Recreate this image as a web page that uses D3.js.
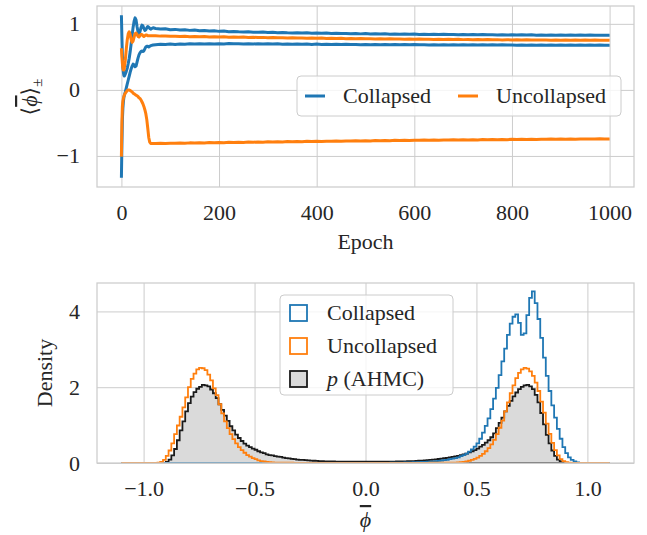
<!DOCTYPE html>
<html>
<head>
<meta charset="utf-8">
<script src="https://cdn.jsdelivr.net/npm/d3@7"></script>
<style>
  body { margin: 0; background: #fff; }
  text { font-family: "Liberation Serif", "DejaVu Serif", serif; fill: #262626; }
</style>
</head>
<body>
<script>
// ---- top panel: mean field vs epoch ----
const earlyEpochs = [0,1,2,3,4,5,6,8,10,12,14,16,18,20,22,24,26,28,30,32,34,36,38,40,42,44,46,48,50,52,54,56,58,60,65];
const lateEpochs = [70,80,90,100,110,120,130,140,150,160,
    170,180,190,200,210,220,230,240,250,260,
    270,280,290,300,310,320,330,340,350,360,
    370,380,390,400,410,420,430,440,450,460,
    470,480,490,500,510,520,530,540,550,560,
    570,580,590,600,610,620,630,640,650,660,
    670,680,690,700,710,720,730,740,750,760,
    770,780,790,800,810,820,830,840,850,860,
    870,880,890,900,910,920,930,940,950,960,
    970,980,990,1000];

const collapsedPlusEarly = [1.13,0.80,0.52,0.35,0.27,0.22,0.21,0.24,0.28,0.33,0.40,0.48,0.58,0.70,0.83,0.95,1.04,1.09,1.06,0.96,0.88,0.85,0.88,0.94,0.98,0.97,0.93,0.90,0.91,0.94,0.96,0.95,0.93,0.92,0.94];
const collapsedPlusLate = [0.930,0.922,0.925,0.912,0.916,0.906,0.910,0.901,0.905,0.896,
    0.900,0.891,0.895,0.886,0.890,0.881,0.885,0.879,0.876,0.880,
    0.874,0.871,0.875,0.869,0.872,0.866,0.870,0.865,0.862,0.866,
    0.860,0.864,0.858,0.861,0.856,0.860,0.854,0.857,0.852,0.855,
    0.850,0.853,0.848,0.852,0.847,0.850,0.845,0.849,0.844,0.847,
    0.843,0.846,0.841,0.845,0.840,0.843,0.839,0.842,0.838,0.841,
    0.837,0.840,0.836,0.839,0.835,0.838,0.834,0.837,0.833,0.836,
    0.832,0.835,0.831,0.834,0.830,0.834,0.830,0.833,0.829,0.832,
    0.828,0.832,0.828,0.831,0.827,0.831,0.827,0.830,0.826,0.830,
    0.826,0.829,0.826,0.828];

const collapsedMinusEarly = [-1.33,-0.85,-0.45,-0.28,-0.18,-0.12,-0.08,-0.03,0.03,0.09,0.15,0.21,0.27,0.32,0.36,0.39,0.38,0.35,0.36,0.42,0.48,0.53,0.56,0.58,0.59,0.58,0.59,0.62,0.65,0.66,0.66,0.65,0.66,0.67,0.68];
const collapsedMinusLate = [0.684,0.690,0.686,0.693,0.689,0.695,0.691,0.697,0.693,0.698,
    0.694,0.699,0.695,0.700,0.696,0.701,0.697,0.700,0.696,0.699,
    0.695,0.699,0.694,0.698,0.693,0.697,0.692,0.696,0.691,0.695,
    0.690,0.694,0.689,0.693,0.688,0.692,0.687,0.691,0.686,0.690,
    0.686,0.689,0.685,0.689,0.684,0.688,0.684,0.687,0.683,0.687,
    0.683,0.686,0.682,0.686,0.682,0.685,0.681,0.685,0.681,0.684,
    0.680,0.684,0.680,0.683,0.679,0.683,0.679,0.682,0.678,0.682,
    0.678,0.682,0.678,0.681,0.677,0.681,0.677,0.680,0.677,0.680,
    0.676,0.680,0.676,0.679,0.676,0.679,0.675,0.679,0.675,0.678,
    0.675,0.678,0.675,0.677];

const uncollapsedPlusEarly = [0.63,0.50,0.40,0.33,0.30,0.30,0.33,0.45,0.62,0.76,0.85,0.88,0.84,0.76,0.72,0.74,0.80,0.85,0.86,0.84,0.81,0.80,0.82,0.84,0.84,0.82,0.81,0.82,0.83,0.83,0.82,0.82,0.82,0.82,0.82];
const uncollapsedPlusLate = [0.818,0.814,0.816,0.811,0.813,0.808,0.811,0.806,0.808,0.804,
    0.807,0.802,0.805,0.800,0.803,0.798,0.800,0.796,0.799,0.794,
    0.797,0.792,0.795,0.790,0.793,0.788,0.791,0.787,0.789,0.785,
    0.787,0.783,0.786,0.781,0.784,0.779,0.782,0.778,0.780,0.776,
    0.779,0.775,0.777,0.773,0.776,0.772,0.774,0.770,0.773,0.769,
    0.772,0.768,0.770,0.766,0.769,0.765,0.768,0.764,0.767,0.763,
    0.766,0.762,0.765,0.761,0.764,0.760,0.763,0.759,0.762,0.758,
    0.761,0.757,0.760,0.756,0.759,0.755,0.758,0.755,0.757,0.754,
    0.757,0.753,0.756,0.752,0.755,0.752,0.755,0.751,0.754,0.751,
    0.754,0.750,0.753,0.752];

const uncollapsedMinusEarly = [-1.01,-0.50,-0.25,-0.17,-0.13,-0.10,-0.08,-0.05,-0.03,-0.01,0.00,0.00,-0.01,-0.02,-0.03,-0.05,-0.06,-0.07,-0.08,-0.09,-0.10,-0.12,-0.13,-0.15,-0.18,-0.21,-0.25,-0.30,-0.36,-0.45,-0.58,-0.72,-0.79,-0.81,-0.81];
const uncollapsedMinusLate = [-0.812,-0.808,-0.811,-0.806,-0.809,-0.804,-0.807,-0.802,-0.805,-0.800,
    -0.803,-0.798,-0.801,-0.796,-0.799,-0.794,-0.797,-0.792,-0.795,-0.790,
    -0.793,-0.788,-0.791,-0.786,-0.789,-0.785,-0.787,-0.783,-0.786,-0.781,
    -0.784,-0.779,-0.782,-0.777,-0.780,-0.776,-0.778,-0.774,-0.777,-0.772,
    -0.775,-0.771,-0.773,-0.769,-0.772,-0.767,-0.770,-0.766,-0.769,-0.764,
    -0.767,-0.763,-0.766,-0.761,-0.764,-0.760,-0.763,-0.759,-0.762,-0.757,
    -0.760,-0.756,-0.759,-0.755,-0.758,-0.753,-0.757,-0.752,-0.755,-0.751,
    -0.754,-0.750,-0.753,-0.749,-0.752,-0.748,-0.751,-0.747,-0.750,-0.746,
    -0.749,-0.745,-0.748,-0.744,-0.747,-0.743,-0.746,-0.743,-0.745,-0.742,
    -0.745,-0.741,-0.744,-0.742];

const epochTicks = [0, 200, 400, 600, 800, 1000];
const meanTicks = [-1, 0, 1];

// ---- bottom panel: histograms of phi-bar (bins of 0.0125 from -1.1 to 1.1) ----
const binLo = -1.1, binWidth = 0.0125;
const collapsedDensity = [
    0,0,0,0,0,0,0,0,0,0,0,0,0,0,0,0,
    0,0,0,0,0,0,0,0,0,0,0,0,0,0,0,0,
    0,0,0,0,0,0,0,0,0,0,0,0,0,0,0,0,
    0,0,0,0,0,0,0,0,0,0,0,0,0,0,0,0,
    0,0,0,0,0,0,0,0,0,0,0,0,0,0,0,0,
    0,0,0,0,0,0,0,0,0,0,0.001,0.001,0.002,0.002,0.003,0.004,
    0.005,0.006,0.007,0.008,0.010,0.011,0.013,0.015,0.017,0.020,0.022,0.025,0.028,0.031,0.035,0.040,
    0.045,0.050,0.058,0.066,0.075,0.085,0.10,0.115,0.13,0.15,0.18,0.21,0.25,0.30,0.36,0.43,
    0.52,0.64,0.80,0.98,1.18,1.42,1.70,1.98,2.32,2.68,3.02,3.38,3.68,3.86,3.92,3.70,
    3.38,3.42,3.90,4.36,4.53,4.22,3.80,3.30,2.78,2.30,1.90,1.52,1.20,0.90,0.64,0.42,
    0.26,0.15,0.08,0.04,0.015,0.005,0,0,0,0,0,0,0,0,0,0];
const uncollapsedDensity = [
    0,0,0,0,0,0,0,0,0,0,0,0,0,0.01,0.03,0.08,
    0.19,0.33,0.52,0.76,0.99,1.22,1.47,1.73,2.00,2.22,2.36,2.47,2.51,2.50,2.45,2.33,
    2.18,1.97,1.79,1.55,1.31,1.10,0.92,0.76,0.63,0.52,0.42,0.34,0.27,0.21,0.17,0.13,
    0.10,0.07,0.05,0.04,0.03,0.02,0.015,0.012,0.010,0.009,0.008,0.007,0.006,0.006,0.005,0.005,
    0.004,0.004,0.004,0.003,0.003,0.003,0.003,0.002,0.002,0.002,0.002,0.002,0.002,0.002,0.002,0.002,
    0.002,0.002,0.002,0.002,0.002,0.002,0.002,0.002,0.002,0.002,0.002,0.002,0.002,0.002,0.002,0.002,
    0.002,0.002,0.002,0.002,0.002,0.002,0.003,0.003,0.003,0.003,0.004,0.004,0.004,0.005,0.005,0.006,
    0.006,0.006,0.007,0.007,0.008,0.008,0.009,0.009,0.010,0.015,0.02,0.03,0.04,0.06,0.08,0.11,
    0.14,0.19,0.24,0.31,0.39,0.49,0.61,0.76,0.93,1.12,1.36,1.60,1.84,2.05,2.24,2.38,
    2.47,2.51,2.49,2.42,2.30,2.12,1.90,1.62,1.33,1.04,0.77,0.53,0.34,0.20,0.10,0.05,
    0.02,0.01,0,0,0,0,0,0,0,0,0,0,0,0,0,0];
const ahmcDensity = [
    0,0,0,0,0,0,0,0,0,0,0,0,0,0,0,0.005,
    0.03,0.09,0.20,0.37,0.60,0.86,1.10,1.36,1.58,1.75,1.87,1.96,2.01,2.06,2.05,2.02,
    1.94,1.84,1.71,1.55,1.40,1.25,1.11,0.97,0.86,0.75,0.66,0.58,0.51,0.46,0.42,0.38,
    0.35,0.31,0.28,0.26,0.23,0.21,0.20,0.18,0.17,0.16,0.14,0.13,0.12,0.11,0.10,0.09,
    0.085,0.08,0.075,0.07,0.065,0.06,0.055,0.05,0.048,0.045,0.043,0.04,0.039,0.038,0.037,0.036,
    0.036,0.035,0.035,0.034,0.035,0.034,0.033,0.034,0.033,0.034,0.034,0.035,0.034,0.035,0.036,0.036,
    0.037,0.038,0.038,0.039,0.040,0.042,0.044,0.046,0.048,0.052,0.056,0.060,0.065,0.070,0.075,0.080,
    0.088,0.095,0.105,0.115,0.125,0.135,0.15,0.16,0.175,0.19,0.21,0.23,0.25,0.28,0.31,0.34,
    0.38,0.43,0.48,0.54,0.60,0.68,0.78,0.92,1.06,1.20,1.36,1.51,1.64,1.76,1.86,1.95,
    2.01,2.05,2.06,2.02,1.95,1.80,1.60,1.32,1.02,0.74,0.52,0.33,0.19,0.09,0.04,0.015,
    0.005,0,0,0,0,0,0,0,0,0,0,0,0,0,0,0];

const phiTicks = [-1.0, -0.5, 0.0, 0.5, 1.0];
const densityTicks = [0, 2, 4];

const blue = "#1f77b4", orange = "#ff7f0e", gridColor = "#cccccc";
const fontSize = 22;
const serif = "'Liberation Serif', 'DejaVu Serif', serif";

const svg = d3.select("body").append("svg")
    .attr("width", 647)
    .attr("height", 535)
    .style("font-family", serif);

const panelTop = { left: 97, right: 634, top: 6, bottom: 187 };
const panelBot = { left: 97, right: 634, top: 283, bottom: 463 };

const xEpoch = d3.scaleLinear().domain([-50, 1050]).range([panelTop.left, panelTop.right]);
const yMean = d3.scaleLinear().domain([-1.47, 1.27]).range([panelTop.bottom, panelTop.top]);
const xPhi = d3.scaleLinear().domain([-1.21, 1.21]).range([panelBot.left, panelBot.right]);
const yDens = d3.scaleLinear().domain([0, 4.75]).range([panelBot.bottom, panelBot.top]);

function drawFrame(p, x, y, xTicks, yTicks, xFmt, yFmt, id) {
    const w = p.right - p.left, h = p.bottom - p.top;
    svg.append("defs").append("clipPath").attr("id", id)
        .append("rect").attr("x", p.left).attr("y", p.top).attr("width", w).attr("height", h);

    const gx = svg.append("g")
        .attr("transform", `translate(0,${p.bottom})`)
        .call(d3.axisBottom(x).tickValues(xTicks).tickFormat(xFmt)
            .tickSize(-h).tickSizeOuter(0).tickPadding(17));
    const gy = svg.append("g")
        .attr("transform", `translate(${p.left},0)`)
        .call(d3.axisLeft(y).tickValues(yTicks).tickFormat(yFmt)
            .tickSize(-w).tickSizeOuter(0).tickPadding(17));
    [gx, gy].forEach(function(g) {
        g.attr("font-family", null).attr("font-size", null);
        g.select(".domain").remove();
        g.selectAll(".tick line").attr("stroke", gridColor).attr("stroke-width", 1);
        g.selectAll(".tick text")
            .style("font-family", serif)
            .style("font-size", fontSize + "px")
            .attr("fill", "#262626");
    });
    return function() {
        svg.append("rect")
            .attr("x", p.left).attr("y", p.top).attr("width", w).attr("height", h)
            .attr("fill", "none").attr("stroke", gridColor).attr("stroke-width", 1.25);
    };
}

// ---------- top panel ----------
const topBorder = drawFrame(panelTop, xEpoch, yMean, epochTicks, meanTicks, d3.format("d"), d3.format("d"), "clipTop");
topBorder();

const epochs = earlyEpochs.concat(lateEpochs);
const meanSeries = [
    { color: blue, values: collapsedPlusEarly.concat(collapsedPlusLate) },
    { color: blue, values: collapsedMinusEarly.concat(collapsedMinusLate) },
    { color: orange, values: uncollapsedPlusEarly.concat(uncollapsedPlusLate) },
    { color: orange, values: uncollapsedMinusEarly.concat(uncollapsedMinusLate) }
];

const meanLine = d3.line()
    .x(function(d) { return xEpoch(d[0]); })
    .y(function(d) { return yMean(d[1]); });

svg.append("g").attr("clip-path", "url(#clipTop)")
    .selectAll("path")
    .data(meanSeries)
    .enter().append("path")
    .attr("fill", "none")
    .attr("stroke", function(d) { return d.color; })
    .attr("stroke-width", 3)
    .attr("stroke-linejoin", "round")
    .attr("d", function(s) { return meanLine(epochs.map(function(e, i) { return [e, s.values[i]]; })); });

// legend (top)
const legTop = svg.append("g");
legTop.append("rect")
    .attr("x", 297).attr("y", 76).attr("width", 324).attr("height", 40)
    .attr("rx", 4).attr("fill", "#fff").attr("fill-opacity", 0.8)
    .attr("stroke", gridColor).attr("stroke-width", 1);
[["Collapsed", blue, 305], ["Uncollapsed", orange, 458]].forEach(function(item) {
    legTop.append("line")
        .attr("x1", item[2]).attr("x2", item[2] + 20).attr("y1", 96).attr("y2", 96)
        .attr("stroke", item[1]).attr("stroke-width", 3);
    legTop.append("text")
        .attr("x", item[2] + 38).attr("y", 103)
        .attr("font-size", fontSize).text(item[0]);
});

svg.append("text")
    .attr("x", 365.5).attr("y", 249)
    .attr("text-anchor", "middle").attr("font-size", fontSize)
    .text("Epoch");

const yLabTop = svg.append("text")
    .attr("transform", "translate(37,97) rotate(-90)")
    .attr("text-anchor", "middle").attr("font-size", fontSize);
yLabTop.append("tspan").text("\u27E8");
yLabTop.append("tspan").attr("font-style", "italic")
    .attr("text-decoration", "overline").text("\u03D5");
yLabTop.append("tspan").text("\u27E9");
yLabTop.append("tspan").attr("font-size", 15).attr("dy", 5).text("\u00B1");

// ---------- bottom panel ----------
const botBorder = drawFrame(panelBot, xPhi, yDens, phiTicks, densityTicks, d3.format(".1f"), d3.format("d"), "clipBot");

function stepPoints(dens) {
    const pts = [[binLo, 0]];
    dens.forEach(function(v, i) { pts.push([binLo + i * binWidth, v]); });
    pts.push([binLo + dens.length * binWidth, dens[dens.length - 1]]);
    pts.push([binLo + dens.length * binWidth, 0]);
    return pts;
}

const stepLine = d3.line()
    .x(function(d) { return xPhi(d[0]); })
    .y(function(d) { return yDens(d[1]); })
    .curve(d3.curveStepAfter);

const histG = svg.append("g").attr("clip-path", "url(#clipBot)");

histG.append("path")
    .attr("d", stepLine(stepPoints(ahmcDensity)) + "Z")
    .attr("fill", "#dadada").attr("stroke", "#1a1a1a").attr("stroke-width", 1.8)
    .attr("stroke-linejoin", "miter");

[[collapsedDensity, blue], [uncollapsedDensity, orange]].forEach(function(h) {
    histG.append("path")
        .attr("d", stepLine(stepPoints(h[0])))
        .attr("fill", "none").attr("stroke", h[1]).attr("stroke-width", 1.8);
});

botBorder();

// legend (bottom)
const legBot = svg.append("g");
legBot.append("rect")
    .attr("x", 280).attr("y", 295).attr("width", 173).attr("height", 100)
    .attr("rx", 4).attr("fill", "#fff").attr("fill-opacity", 0.8)
    .attr("stroke", gridColor).attr("stroke-width", 1);
const legBotItems = [
    { label: "Collapsed", stroke: blue, fill: "none" },
    { label: "Uncollapsed", stroke: orange, fill: "none" },
    { label: "AHMC", stroke: "#1a1a1a", fill: "#dadada" }
];
legBotItems.forEach(function(item, i) {
    const y0 = 305 + i * 33;
    legBot.append("rect")
        .attr("x", 290).attr("y", y0).attr("width", 17).attr("height", 16)
        .attr("fill", item.fill).attr("stroke", item.stroke).attr("stroke-width", 1.8);
    const t = legBot.append("text")
        .attr("x", 327).attr("y", y0 + 15).attr("font-size", fontSize);
    if (item.label === "AHMC") {
        t.append("tspan").attr("font-style", "italic").text("p");
        t.append("tspan").text(" (AHMC)");
    } else {
        t.text(item.label);
    }
});

svg.append("text")
    .attr("transform", "translate(52,373) rotate(-90)")
    .attr("text-anchor", "middle").attr("font-size", fontSize)
    .text("Density");

svg.append("text")
    .attr("x", 365.5).attr("y", 527)
    .attr("text-anchor", "middle").attr("font-size", fontSize)
    .attr("font-style", "italic").attr("text-decoration", "overline")
    .text("\u03D5");
</script>
</body>
</html>
